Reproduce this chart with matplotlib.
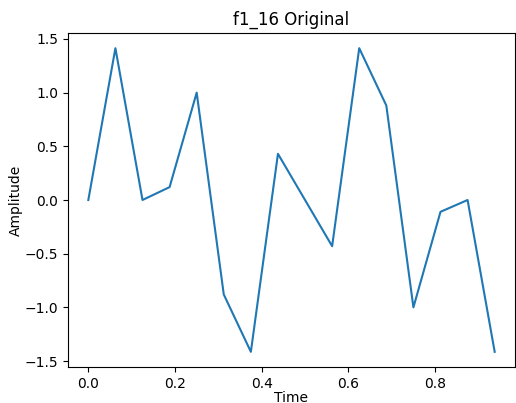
import matplotlib
matplotlib.use("Agg")
import matplotlib.pyplot as plt

time = [0.0, 0.0625, 0.125, 0.1875, 0.25, 0.3125, 0.375, 0.4375,
        0.5, 0.5625, 0.625, 0.6875, 0.75, 0.8125, 0.875, 0.9375]
amplitude = [0.0, 1.414, 0.0, 0.12, 1.0, -0.88, -1.414, 0.43,
             0.0, -0.43, 1.414, 0.88, -1.0, -0.11, 0.0, -1.414]

fig = plt.figure(figsize=(5.16, 4.03), dpi=100)
ax = fig.add_axes([68/516, 36/403, (515-68)/516, (367-33)/403])
ax.plot(time, amplitude, color="#1f77b4")
ax.set_title("f1_16 Original")
ax.set_xlabel("Time", labelpad=0)
ax.set_ylabel("Amplitude", labelpad=1)
fig.savefig("out.png", dpi=100)
